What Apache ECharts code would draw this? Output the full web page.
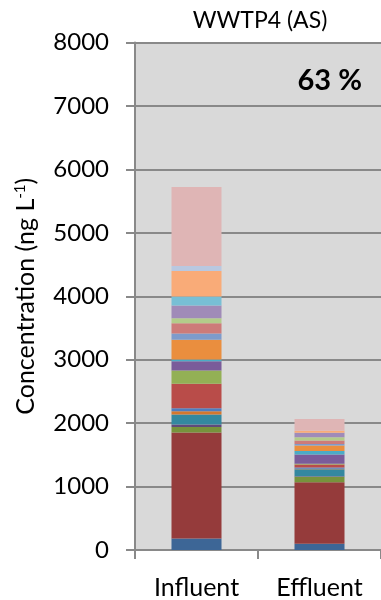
<!DOCTYPE html>
<html>
<head>
<meta charset="utf-8">
<script src="https://cdn.jsdelivr.net/npm/echarts@6/dist/echarts.min.js"></script>
<style>
  html, body { margin: 0; padding: 0; background: #ffffff; }
  #chart { width: 381px; height: 600px; }
</style>
</head>
<body>
<div id="chart"></div>
<script>
// Sample types on the category axis
const categories = ['Influent', 'Effluent'];

// Stacked compound concentrations (ng/L), listed from the bottom of each bar upward
const influent = [180, 1674, 83, 42, 157, 52, 47, 387, 209, 146, 27, 309, 99, 162, 78, 204, 141, 403, 78, 1244];
const effluent = [100, 968, 88, 5, 110, 10, 20, 47, 12, 146, 53, 88, 22, 56, 53, 72, 0, 31, 0, 184];

// Value axis range
const yMin = 0;
const yMax = 8000;
const yStep = 1000;

// Text
const plantTitle = 'WWTP4 (AS)';
const removalLabel = '63 %';

// One colour per stacked compound
const palette = [
  '#3d6696', '#953b3b', '#77933c', '#604a7b', '#34889f', '#d4772e',
  '#4f7ec0', '#b94c49', '#93b055', '#7a5c9a', '#4bacc6', '#ea8e3e',
  '#7e9bcb', '#cd7b79', '#b3cc8a', '#a08bb8', '#78bfd5', '#f9ab78',
  '#b9c8e0', '#dfb5b5'
];

const FONT = 'Lato, "Open Sans", sans-serif';
const axisGray = '#898989';

const series = influent.map((v, i) => ({
  name: 'Compound ' + (i + 1),
  type: 'bar',
  stack: 'total',
  barWidth: 50,
  itemStyle: { color: palette[i] },
  data: [influent[i], effluent[i]]
}));

const chart = echarts.init(document.getElementById('chart'), null, { renderer: 'canvas' });
chart.setOption({
  animation: false,
  backgroundColor: '#ffffff',
  grid: {
    left: 135, right: -8, top: 42.5, bottom: 48,
    show: true, backgroundColor: '#d9d9d9', borderWidth: 0
  },
  xAxis: {
    type: 'category',
    data: categories,
    axisLine: { lineStyle: { color: axisGray, width: 2 } },
    axisTick: { show: true, length: 9, lineStyle: { color: axisGray, width: 2 } },
    axisLabel: { color: '#000', fontFamily: FONT, fontSize: 25, margin: 25 }
  },
  yAxis: {
    type: 'value',
    min: yMin, max: yMax, interval: yStep,
    name: 'Concentration (ng L{sup|-1})',
    nameLocation: 'middle',
    nameRotate: 90,
    nameGap: 97,
    nameTextStyle: {
      color: '#000', fontFamily: FONT, fontSize: 25,
      rich: { sup: { fontFamily: FONT, fontSize: 15, verticalAlign: 'top', lineHeight: 15, color: '#000' } }
    },
    axisLine: { show: true, lineStyle: { color: axisGray, width: 2 } },
    axisTick: { show: true, length: 9, lineStyle: { color: axisGray, width: 2 } },
    splitLine: { show: true, lineStyle: { color: axisGray, width: 2 } },
    axisLabel: {
      color: '#000', fontFamily: FONT, fontSize: 24, margin: 26,
      formatter: (v) => String(v)
    }
  },
  graphic: [
    {
      type: 'text', x: 260, y: 21,
      style: { text: plantTitle, textAlign: 'center', textVerticalAlign: 'middle',
               font: '23px ' + FONT, fill: '#000' }
    },
    {
      type: 'text', x: 362, y: 81,
      style: { text: removalLabel, textAlign: 'right', textVerticalAlign: 'middle',
               font: 'bold 29px ' + FONT, fill: '#000' }
    }
  ],
  series: series
});
</script>
</body>
</html>
